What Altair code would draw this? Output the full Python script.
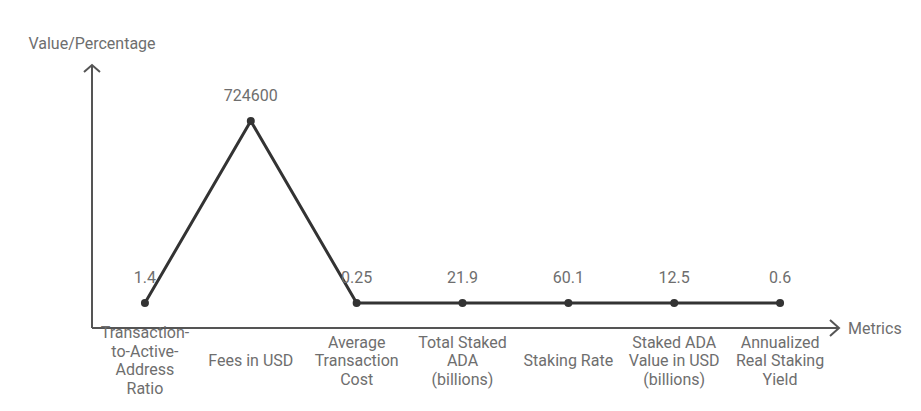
import altair as alt
import pandas as pd

categories = [
    "Transaction-to-Active-Address Ratio",
    "Fees in USD",
    "Average Transaction Cost",
    "Total Staked ADA (billions)",
    "Staking Rate",
    "Staked ADA Value in USD (billions)",
    "Annualized Real Staking Yield",
]
tick_labels = [
    "Transaction-\nto-Active-\nAddress\nRatio",
    "Fees in USD",
    "Average\nTransaction\nCost",
    "Total Staked\nADA\n(billions)",
    "Staking Rate",
    "Staked ADA\nValue in USD\n(billions)",
    "Annualized\nReal Staking\nYield",
]
values = [1.4, 724600, 0.25, 21.9, 60.1, 12.5, 0.6]
value_labels = ["1.4", "724600", "0.25", "21.9", "60.1", "12.5", "0.6"]

df = pd.DataFrame({
    "metric": categories,
    "value": values,
    "label": value_labels,
    "tick": tick_labels,
})

W, H = 741, 263
FONT = "Roboto"
FS = 16
LH = 18.5
TXT = "#6e6e6e"
AX = "#555555"
LINE = "#333333"

x_enc = alt.X("metric:N", sort=categories, axis=None,
              scale=alt.Scale(type="point", padding=0.5))
y_enc = alt.Y("value:Q", axis=None,
              scale=alt.Scale(domain=[-99500, 947500], nice=False, zero=False))

base = alt.Chart(df)

line = base.mark_line(color=LINE, strokeWidth=3).encode(x=x_enc, y=y_enc)
pts = base.mark_point(filled=True, color=LINE, size=64, opacity=1).encode(x=x_enc, y=y_enc)
vals = base.mark_text(dy=-25, font=FONT, fontSize=FS, color=TXT, baseline="middle").encode(
    x=x_enc, y=y_enc, text="label:N")
ticks = base.transform_calculate(
    off=f"-(length(split(datum.tick, '\\n')) - 1) * {LH / 2}"
).mark_text(font=FONT, fontSize=FS, color=TXT, baseline="middle",
            align="center", lineBreak="\n", lineHeight=LH).encode(
    x=x_enc, y=alt.value(H + 33),
    yOffset=alt.YOffset("off:Q", scale=None),
    text="tick:N")

one = alt.Chart(pd.DataFrame({"a": [0]}))
yaxis = one.mark_rule(color=AX, strokeWidth=2).encode(
    x=alt.value(0), y=alt.value(0), y2=alt.value(H))
xaxis = one.mark_rule(color=AX, strokeWidth=2).encode(
    x=alt.value(0), x2=alt.value(747), y=alt.value(H))
yarrow = one.mark_point(shape="M-1,0.875 L0,0 L1,0.875", filled=False, color=AX,
                        strokeWidth=2, size=256, opacity=1).encode(
    x=alt.value(0), y=alt.value(0))
xarrow = one.mark_point(shape="M-1,-0.889 L0,0 L-1,0.889", filled=False, color=AX,
                        strokeWidth=2, size=324, opacity=1).encode(
    x=alt.value(747), y=alt.value(H))
ytitle = one.mark_text(text="Value/Percentage", font=FONT, fontSize=FS, color=TXT,
                       align="center", baseline="middle").encode(
    x=alt.value(0), y=alt.value(-21))
xtitle = one.mark_text(text="Metrics", font=FONT, fontSize=FS, color=TXT,
                       align="left", baseline="middle").encode(
    x=alt.value(756), y=alt.value(H + 1))

chart = alt.layer(yaxis, xaxis, yarrow, xarrow, ytitle, xtitle, line, pts, vals, ticks).properties(
    width=W, height=H,
    background="white",
    autosize=alt.AutoSizeParams(type="none"),
    padding={"left": 84, "top": 57, "right": 80, "bottom": 75},
).configure_view(stroke=None)

chart.save("out.html", embed_options={"renderer": "svg", "actions": False})
